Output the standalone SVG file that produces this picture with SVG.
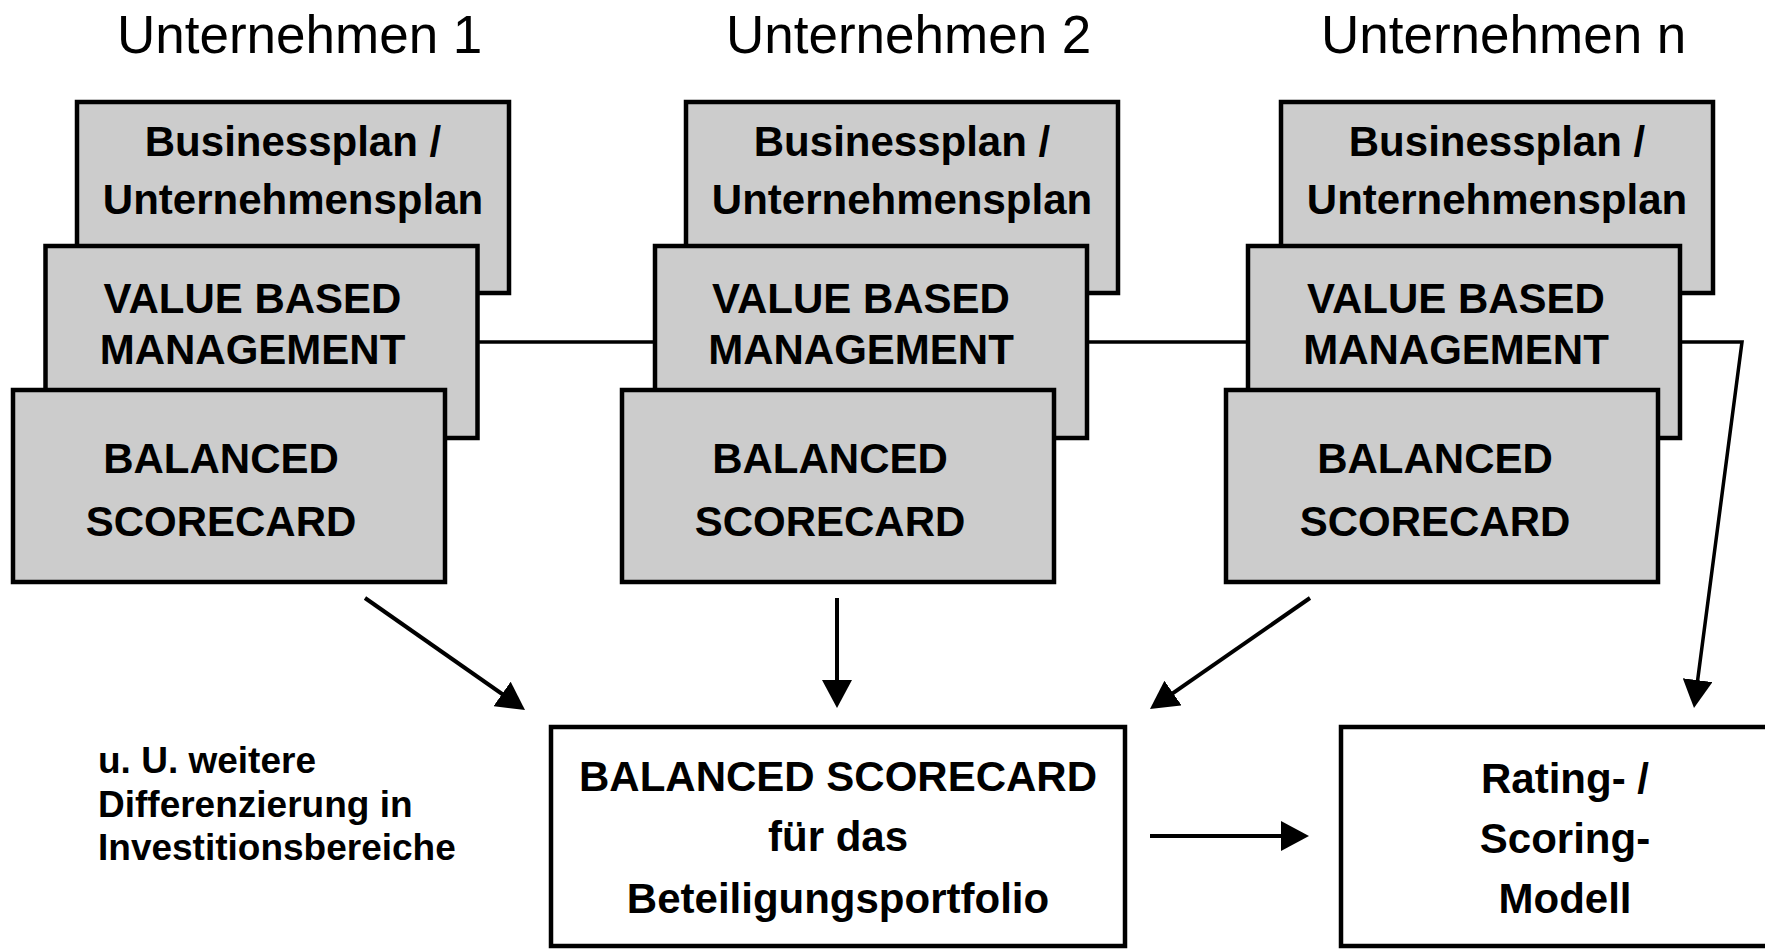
<svg xmlns="http://www.w3.org/2000/svg" width="1765" height="950" viewBox="0 0 1765 950">
<style>
.title{font-family:"Liberation Sans",Arial,sans-serif;font-size:53px;fill:#000}
.lbl{font-family:"Liberation Sans",Arial,sans-serif;font-size:42px;font-weight:bold;fill:#000}
.note{font-family:"Liberation Sans",Arial,sans-serif;font-size:37px;font-weight:bold;fill:#000}
.gbox{fill:#cccccc;stroke:#000;stroke-width:4.5}
.wbox{fill:#fff;stroke:#000;stroke-width:4.5}
.conn{fill:none;stroke:#000;stroke-width:3.5}
.arr{fill:none;stroke:#000;stroke-width:4;marker-end:url(#ah)}
</style>
<defs>
<marker id="ah" markerUnits="userSpaceOnUse" markerWidth="28" markerHeight="30" viewBox="0 0 28 30" refX="18" refY="15" orient="auto">
<path d="M0,0 L28,15 L0,30 z" fill="#000"/>
</marker>
</defs>
<rect width="1765" height="950" fill="#fff"/>

<g id="titles">
<text class="title" x="117" y="53">Unternehmen 1</text>
<text class="title" x="726" y="53">Unternehmen 2</text>
<text class="title" x="1321" y="53">Unternehmen n</text>
</g>

<g id="connectors">
<line class="conn" x1="478" y1="342" x2="655" y2="342"/>
<line class="conn" x1="1087" y1="342" x2="1249" y2="342"/>
<polyline class="conn" points="1680,342 1742,342 1695.3,698" style="marker-end:url(#ah)"/>
<line class="arr" x1="365" y1="598" x2="516.8" y2="704.3"/>
<line class="arr" x1="837" y1="598" x2="837" y2="698"/>
<line class="arr" x1="1310" y1="598" x2="1158.2" y2="703.3"/>
<line class="arr" x1="1150" y1="836" x2="1299" y2="836"/>
</g>

<g id="stack1">
<g id="bp1"><rect class="gbox" x="77" y="102" width="432" height="191"/>
<text class="lbl" text-anchor="middle" x="293" y="156">Businessplan /</text>
<text class="lbl" text-anchor="middle" x="293" y="214">Unternehmensplan</text></g>
<g id="vbm1"><rect class="gbox" x="45.5" y="246" width="432" height="192"/>
<text class="lbl" text-anchor="middle" x="252.5" y="313">VALUE BASED</text>
<text class="lbl" text-anchor="middle" x="252.5" y="364">MANAGEMENT</text></g>
<g id="bsc1"><rect class="gbox" x="13" y="390" width="432" height="192"/>
<text class="lbl" text-anchor="middle" x="221" y="473">BALANCED</text>
<text class="lbl" text-anchor="middle" x="221" y="536">SCORECARD</text></g>
</g>

<g id="stack2">
<g id="bp2"><rect class="gbox" x="686" y="102" width="432" height="191"/>
<text class="lbl" text-anchor="middle" x="902" y="156">Businessplan /</text>
<text class="lbl" text-anchor="middle" x="902" y="214">Unternehmensplan</text></g>
<g id="vbm2"><rect class="gbox" x="655" y="246" width="432" height="192"/>
<text class="lbl" text-anchor="middle" x="861" y="313">VALUE BASED</text>
<text class="lbl" text-anchor="middle" x="861" y="364">MANAGEMENT</text></g>
<g id="bsc2"><rect class="gbox" x="622" y="390" width="432" height="192"/>
<text class="lbl" text-anchor="middle" x="830" y="473">BALANCED</text>
<text class="lbl" text-anchor="middle" x="830" y="536">SCORECARD</text></g>
</g>

<g id="stack3">
<g id="bp3"><rect class="gbox" x="1281" y="102" width="432" height="191"/>
<text class="lbl" text-anchor="middle" x="1497" y="156">Businessplan /</text>
<text class="lbl" text-anchor="middle" x="1497" y="214">Unternehmensplan</text></g>
<g id="vbm3"><rect class="gbox" x="1248" y="246" width="432" height="192"/>
<text class="lbl" text-anchor="middle" x="1456" y="313">VALUE BASED</text>
<text class="lbl" text-anchor="middle" x="1456" y="364">MANAGEMENT</text></g>
<g id="bsc3"><rect class="gbox" x="1226" y="390" width="432" height="192"/>
<text class="lbl" text-anchor="middle" x="1435" y="473">BALANCED</text>
<text class="lbl" text-anchor="middle" x="1435" y="536">SCORECARD</text></g>
</g>

<g id="note">
<text class="note" x="98" y="773">u. U. weitere</text>
<text class="note" x="98" y="817">Differenzierung in</text>
<text class="note" x="98" y="860">Investitionsbereiche</text>
</g>

<g id="portfolio">
<rect class="wbox" x="551" y="727" width="574" height="219"/>
<text class="lbl" text-anchor="middle" x="838" y="791">BALANCED SCORECARD</text>
<text class="lbl" text-anchor="middle" x="838" y="851">für das</text>
<text class="lbl" text-anchor="middle" x="838" y="913">Beteiligungsportfolio</text>
</g>

<g id="rating">
<rect class="wbox" x="1341" y="727" width="450" height="219"/>
<text class="lbl" text-anchor="middle" x="1565" y="793">Rating- /</text>
<text class="lbl" text-anchor="middle" x="1565" y="853">Scoring-</text>
<text class="lbl" text-anchor="middle" x="1565" y="913">Modell</text>
</g>
</svg>
